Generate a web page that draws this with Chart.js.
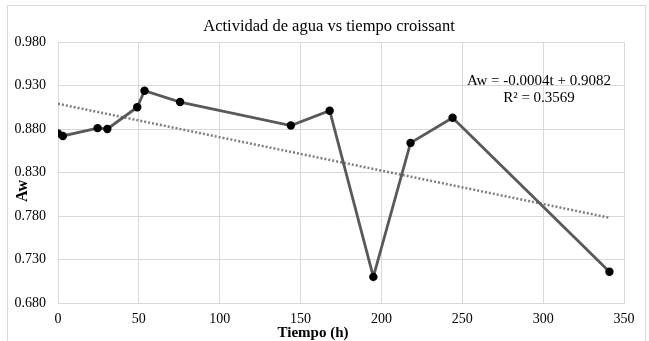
<!DOCTYPE html>
<html>
<head>
<meta charset="utf-8">
<script src="https://cdn.jsdelivr.net/npm/chart.js@4.4.1/dist/chart.umd.min.js"></script>
<style>
  html, body { margin: 0; padding: 0; background: #fff; overflow: hidden; }
  #frame { position: absolute; left: 7px; top: 5px; width: 637px; height: 345px; border: 1px solid #d9d9d9; }
  #wrap { position: absolute; left: 0; top: 0; width: 649px; height: 341px; }
</style>
</head>
<body>
<div id="frame"></div>
<div id="wrap"><canvas id="c" width="649" height="341"></canvas></div>
<script>
// tiempo (h) y actividad de agua
const timeH = [0, 3, 24.5, 30.5, 49, 53.5, 75.5, 144, 168, 195, 218, 244, 341];
const awValues = [0.875, 0.872, 0.881, 0.880, 0.905, 0.924, 0.911, 0.884, 0.901, 0.710, 0.864, 0.893, 0.716];
// linea de tendencia (extremos)
const trendX = [0, 341];
const trendY = [0.909, 0.778];
const xTicks = [0, 50, 100, 150, 200, 250, 300, 350];
const yTicks = [0.68, 0.73, 0.78, 0.83, 0.88, 0.93, 0.98];

const chartTitle = "Actividad de agua vs tiempo croissant";
const eqText = "Aw = -0.0004t + 0.9082";
const r2Text = "R² = 0.3569";
const xTitle = "Tiempo (h)";
const yTitle = "Aw";

const serif = "'Liberation Serif', 'Times New Roman', serif";

const textPlugin = {
  id: "texts",
  afterDraw(chart) {
    const ctx = chart.ctx;
    ctx.save();
    ctx.fillStyle = "#000";
    ctx.textBaseline = "middle";
    ctx.textAlign = "center";
    ctx.font = "16.5px " + serif;
    ctx.fillText(chartTitle, 329, 27);
    ctx.font = "15px " + serif;
    ctx.fillText(eqText, 539, 81);
    ctx.fillText(r2Text, 539, 98);
    ctx.font = "bold 15px " + serif;
    ctx.fillText(xTitle, 313, 333);
    ctx.translate(23, 191);
    ctx.rotate(-Math.PI / 2);
    ctx.font = "bold 16px " + serif;
    ctx.fillText(yTitle, 0, 0);
    ctx.restore();
  }
};

new Chart(document.getElementById("c"), {
  type: "scatter",
  data: {
    datasets: [
      {
        data: timeH.map((t, i) => ({x: t, y: awValues[i]})),
        showLine: true,
        borderColor: "#595959",
        borderWidth: 2.8,
        pointRadius: 4.2,
        pointBackgroundColor: "#000",
        pointBorderColor: "#000",
        pointBorderWidth: 0,
        order: 1
      },
      {
        data: trendX.map((t, i) => ({x: t, y: trendY[i]})),
        showLine: true,
        borderColor: "#7f7f7f",
        borderWidth: 2.5,
        borderDash: [2, 2],
        pointRadius: 0,
        order: 2
      }
    ]
  },
  options: {
    responsive: false,
    animation: false,
    layout: { padding: { top: 42, right: 25, left: 0, bottom: 0 } },
    plugins: { legend: { display: false }, tooltip: { enabled: false } },
    scales: {
      x: {
        type: "linear",
        min: 0,
        max: 350,
        afterBuildTicks: (s) => { s.ticks = xTicks.map(v => ({value: v})); },
        afterFit: (s) => { s.height = 38; },
        grid: { color: "#d9d9d9", lineWidth: 1, drawTicks: false },
        border: { color: "#d9d9d9" },
        ticks: { font: { family: serif, size: 14 }, color: "#000", padding: 8, maxRotation: 0 }
      },
      y: {
        min: 0.68,
        max: 0.98,
        afterBuildTicks: (s) => { s.ticks = yTicks.map(v => ({value: v})); },
        afterFit: (s) => { s.width = 58; },
        grid: { color: "#d9d9d9", lineWidth: 1, drawTicks: false },
        border: { color: "#d9d9d9" },
        ticks: { font: { family: serif, size: 14 }, color: "#000", padding: 12, callback: (v) => v.toFixed(3) }
      }
    }
  },
  plugins: [textPlugin]
});
</script>
</body>
</html>
